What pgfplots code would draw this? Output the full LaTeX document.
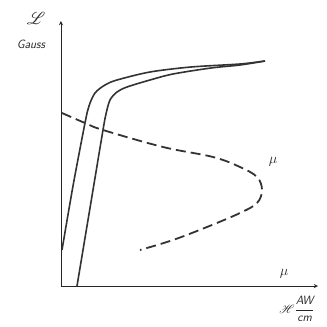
\documentclass[border=0pt]{standalone}
\usepackage{pgfplots}
\pgfplotsset{compat=1.18}
\usepackage{mathrsfs}
\begin{document}
\begin{tikzpicture}
\begin{axis}[
  scale only axis, width=257pt, height=265pt,
  xmin=0, xmax=257, ymin=0, ymax=265,
  axis lines=left,
  axis line style={-stealth, line width=0.9pt, black!85},
  ticks=none, clip=false,
]
% left branch
\addplot[smooth, tension=0.5, line width=1.6pt, black!80] coordinates {
  (1,36) (12,100) (24,163) (28,180) (34,193) (44,201) (56,206)
  (89,214) (130,219) (179,222) (204,225)
};
% right branch
\addplot[smooth, tension=0.5, line width=1.6pt, black!80] coordinates {
  (16,0) (29,78) (42,156) (45,172) (49,186) (56,194) (66,199)
  (89,206) (112,212) (150,218) (179,221) (204,225)
};
% permeability
\addplot[smooth, tension=0.6, line width=1.8pt, black!80, dash pattern=on 10pt off 5pt] coordinates {
  (1,173) (24,163) (42,156) (102,139) (152,129) (179,119) (196,109)
  (201,96) (196,83) (179,73) (146,59) (112,46) (79,36)
};
\node[black!85, font=\Large] at (axis cs:212,124) {$\mu$};
\node[black!85, font=\Large] at (axis cs:223,12) {$\mu$};
\node[black!85, font=\large, inner sep=0pt] at (axis cs:236,-23)
  {$\mathscr{H}\displaystyle\frac{\textsf{\itshape AW}}{\textsf{\itshape cm}}$};
\node[black!85, font=\LARGE] at (axis cs:-25,268) {$\mathscr{L}$};
\node[black!85, font=\large\sffamily\itshape] at (axis cs:-30,242) {Gauss};
\path (axis cs:-61,-41) rectangle (axis cs:266,286);
\end{axis}
\end{tikzpicture}
\end{document}
